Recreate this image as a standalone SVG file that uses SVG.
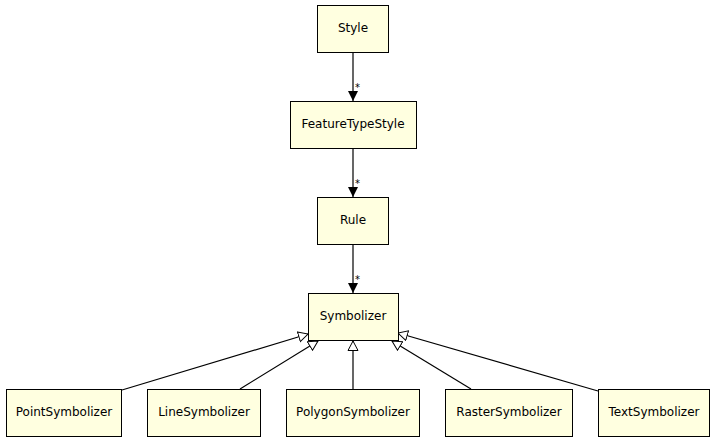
<svg xmlns="http://www.w3.org/2000/svg" width="716" height="443" viewBox="0 0 716 443">
<style>
.n rect{fill:#ffffe0;stroke:#000;stroke-width:1}
.n text{font-family:"DejaVu Sans",sans-serif;font-size:12px;text-anchor:middle;fill:#000}
.c line{stroke:#000;stroke-width:1.2}
.m{font-family:"DejaVu Sans",sans-serif;font-size:10px;fill:#000}
</style>
<defs>
<marker id="fa" markerWidth="10" markerHeight="12" refX="10" refY="6" orient="auto" markerUnits="userSpaceOnUse"><path d="M0,1 L10,6 L0,11 z" fill="#000"/></marker>
<marker id="ha" markerWidth="11" markerHeight="12" refX="10" refY="6" orient="auto" markerUnits="userSpaceOnUse"><path d="M0.5,1 L10,6 L0.5,11 z" fill="#fff" stroke="#000"/></marker>
</defs>
<rect width="716" height="443" fill="#fff"/>
<g id="connectors" class="c">
<line x1="353" y1="53" x2="353" y2="101" marker-end="url(#fa)"/>
<line x1="353" y1="149" x2="353" y2="197" marker-end="url(#fa)"/>
<line x1="353" y1="245" x2="353" y2="293" marker-end="url(#fa)"/>
<line x1="122" y1="390" x2="308" y2="334" marker-end="url(#ha)"/>
<line x1="240" y1="389" x2="318" y2="341" marker-end="url(#ha)"/>
<line x1="353" y1="389" x2="353" y2="341" marker-end="url(#ha)"/>
<line x1="471" y1="389" x2="392" y2="341" marker-end="url(#ha)"/>
<line x1="598" y1="391" x2="398" y2="333" marker-end="url(#ha)"/>
<text class="m" x="355" y="91">*</text>
<text class="m" x="355" y="187">*</text>
<text class="m" x="355" y="283">*</text>
</g>
<g id="Style" class="n"><rect x="317.5" y="5.5" width="71" height="47"/><text x="353" y="32">Style</text></g>
<g id="FeatureTypeStyle" class="n"><rect x="290.5" y="101.5" width="126" height="47"/><text x="353" y="128">FeatureTypeStyle</text></g>
<g id="Rule" class="n"><rect x="317.5" y="197.5" width="71" height="47"/><text x="353" y="224">Rule</text></g>
<g id="Symbolizer" class="n"><rect x="308.5" y="293.5" width="90" height="47"/><text x="353" y="320">Symbolizer</text></g>
<g id="PointSymbolizer" class="n"><rect x="6.5" y="389.5" width="115" height="47"/><text x="64" y="416">PointSymbolizer</text></g>
<g id="LineSymbolizer" class="n"><rect x="147.5" y="389.5" width="113" height="47"/><text x="204" y="416">LineSymbolizer</text></g>
<g id="PolygonSymbolizer" class="n"><rect x="286.5" y="389.5" width="133" height="47"/><text x="353" y="416">PolygonSymbolizer</text></g>
<g id="RasterSymbolizer" class="n"><rect x="445.5" y="389.5" width="127" height="47"/><text x="509" y="416">RasterSymbolizer</text></g>
<g id="TextSymbolizer" class="n"><rect x="598.5" y="389.5" width="111" height="47"/><text x="654" y="416">TextSymbolizer</text></g>
</svg>
